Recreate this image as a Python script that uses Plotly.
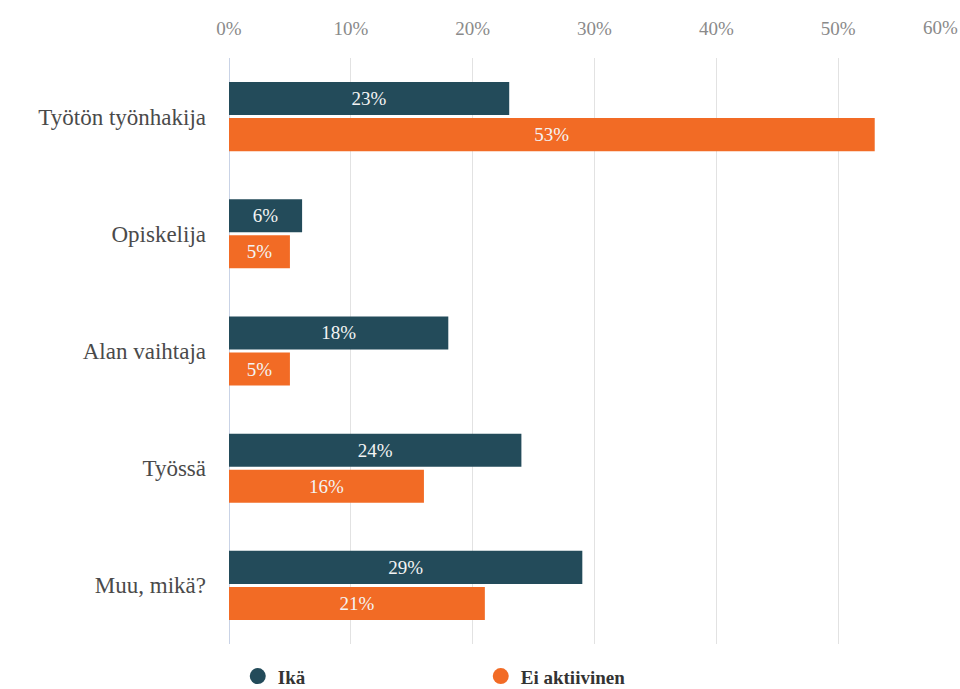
import plotly.graph_objects as go

categories = ["Työtön työnhakija", "Opiskelija", "Alan vaihtaja", "Työssä", "Muu, mikä?"]
ika = [23, 6, 18, 24, 29]
ei_aktiivinen = [53, 5, 5, 16, 21]
series_names = ["Ikä", "Ei aktiivinen"]
colors = ["#234B5A", "#F26B25"]
tick_vals = [0, 10, 20, 30, 40, 50]
tick_text = ["0%", "10%", "20%", "30%", "40%", "50%"]

serif = "Liberation Serif, Times New Roman, serif"

fig = go.Figure()
for name, vals, col in zip(series_names, [ika, ei_aktiivinen], colors):
    fig.add_trace(go.Bar(
        y=categories, x=vals, orientation="h", name=name,
        marker=dict(color=col, line=dict(width=0)),
        text=[f"{v}%" for v in vals], textposition="inside",
        insidetextanchor="middle",
        textfont=dict(family=serif, size=19, color="#F4F4F4"),
        showlegend=False, hoverinfo="skip",
    ))
# legend entries with round markers
for name, col in zip(series_names, colors):
    fig.add_trace(go.Scatter(
        x=[None], y=[None], mode="markers", name=name,
        marker=dict(color=col, size=18, symbol="circle"),
        showlegend=True,
    ))

fig.update_layout(
    width=960, height=689,
    margin=dict(l=229, r=0, t=58, b=45, autoexpand=False),
    paper_bgcolor="white", plot_bgcolor="white",
    barmode="group", bargap=0.385, bargroupgap=0.083,
    font=dict(family=serif),
    xaxis=dict(
        side="top", range=[0, 60], tickvals=tick_vals, ticktext=tick_text,
        showgrid=True, gridcolor="#E2E2E2", gridwidth=1,
        zeroline=True, zerolinecolor="#C9D3E6", zerolinewidth=1,
        showline=False, ticks="", ticklabelstandoff=18,
        tickfont=dict(family=serif, size=19, color="#8A8A8A"),
        fixedrange=True,
    ),
    yaxis=dict(
        autorange="reversed", showgrid=False, zeroline=False, showline=False,
        ticks="", ticklabelstandoff=22,
        tickfont=dict(family=serif, size=23, color="#4A4A4A"),
    ),
    legend=dict(
        orientation="h", x=0.012, xanchor="left", y=-0.055, yanchor="middle",
        entrywidth=198, entrywidthmode="pixels",
        font=dict(family=serif, size=19, color="#333333", weight="bold"),
        itemsizing="trace",
    ),
    annotations=[dict(
        x=60, xref="x", y=1, yref="paper", yanchor="bottom", xanchor="right",
        yshift=18, text="60%", showarrow=False,
        font=dict(family=serif, size=19, color="#8A8A8A"),
    )],
)

fig.write_html("out.html")
